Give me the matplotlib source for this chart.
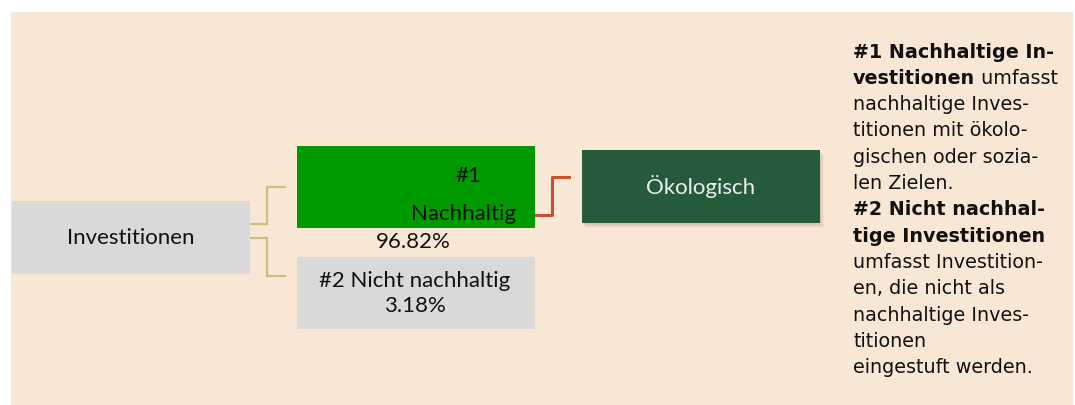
import matplotlib
matplotlib.use("Agg")
import matplotlib.pyplot as plt
from matplotlib.patches import Rectangle

# ---- data ----
root_label = "Investitionen"
categories = ["#1\nNachhaltig", "#2 Nicht nachhaltig"]
shares = [96.82, 3.18]
sub_categories = ["Ökologisch"]

notes_lines = [
    [("#1 Nachhaltige In-", "bold")],
    [("vestitionen", "bold"), (" umfasst", "normal")],
    [("nachhaltige Inves-", "normal")],
    [("titionen mit ökolo-", "normal")],
    [("gischen oder sozia-", "normal")],
    [("len Zielen.", "normal")],
    [("#2 Nicht nachhal-", "bold")],
    [("tige Investitionen", "bold")],
    [("umfasst Investition-", "normal")],
    [("en, die nicht als", "normal")],
    [("nachhaltige Inves-", "normal")],
    [("titionen", "normal")],
    [("eingestuft werden.", "normal")],
]

# ---- colours / layout ----
BG = "#F9E7D6"
GRAY = "#D9D9D9"
GREEN = "#009900"
DARK = "#255A3B"
TAN = "#CCC079"
RED = "#C7502E"
BOX_FONT = ["Lato", "DejaVu Sans"]
NOTE_FONT = ["DejaVu Sans"]
FS = 16
NOTE_FS = 13.8

fig = plt.figure(figsize=(10.75, 4.05), dpi=100)
fig.patch.set_facecolor("white")
ax = fig.add_axes([0, 0, 1, 1])
ax.set_xlim(0, 1075)
ax.set_ylim(405, 0)
ax.axis("off")

ax.add_patch(Rectangle((11, 12), 1061, 395, color=BG, zorder=0))

def box(x0, y0, x1, y1, color, z=2):
    ax.add_patch(Rectangle((x0, y0), x1 - x0, y1 - y0, color=color, lw=0, zorder=z))

def label(x, y, s, ha="center", color="#111111"):
    ax.text(x, y, s, ha=ha, va="center", fontsize=FS, family=BOX_FONT,
            color=color, zorder=5)

# root box
box(12, 201, 250, 274, GRAY)
label(131, 238, root_label)

# connectors
ax.plot([250, 267, 267, 285], [224, 224, 187, 187], color=TAN, lw=1.6, zorder=1)
ax.plot([250, 267, 267, 285], [238, 238, 276, 276], color=TAN, lw=1.6, zorder=1)

# #1 box
box(297, 146, 535, 228, GREEN)
top, bottom = categories[0].split("\n")
label(468, 176, top)
label(516, 214, bottom, ha="right")
label(413, 242, f"{shares[0]:.2f}%")

# #2 box
box(297, 257, 535, 329, GRAY)
label(415, 281, categories[1])
label(415, 306, f"{shares[1]:.2f}%")

# red connector
ax.plot([535, 552, 552, 569], [215, 215, 177, 177], color=RED, lw=2.2, zorder=1)

# dark box with shadow
for i, a in enumerate([0.06, 0.06, 0.05, 0.05]):
    d = i + 1
    ax.add_patch(Rectangle((582 + d, 150 + d + 1), 238, 73, color="#555555",
                           alpha=a, lw=0, zorder=1.5))
box(582, 150, 820, 223, DARK)
label(701, 187, sub_categories[0], color="#EEEEEE")

# notes text
x0 = 853
y = 52
step = 26.3
for parts in notes_lines:
    prev = None
    for txt, w in parts:
        if prev is None:
            prev = ax.text(x0, y, txt, ha="left", va="center", fontsize=NOTE_FS,
                           fontweight=w, family=NOTE_FONT, color="#111111", zorder=5)
        else:
            prev = ax.annotate(txt, xy=(1, 0.5), xycoords=prev, ha="left", va="center",
                               fontsize=NOTE_FS, fontweight=w, family=NOTE_FONT,
                               color="#111111", zorder=5)
    y += step

fig.savefig("out.png", dpi=100, facecolor="white")
